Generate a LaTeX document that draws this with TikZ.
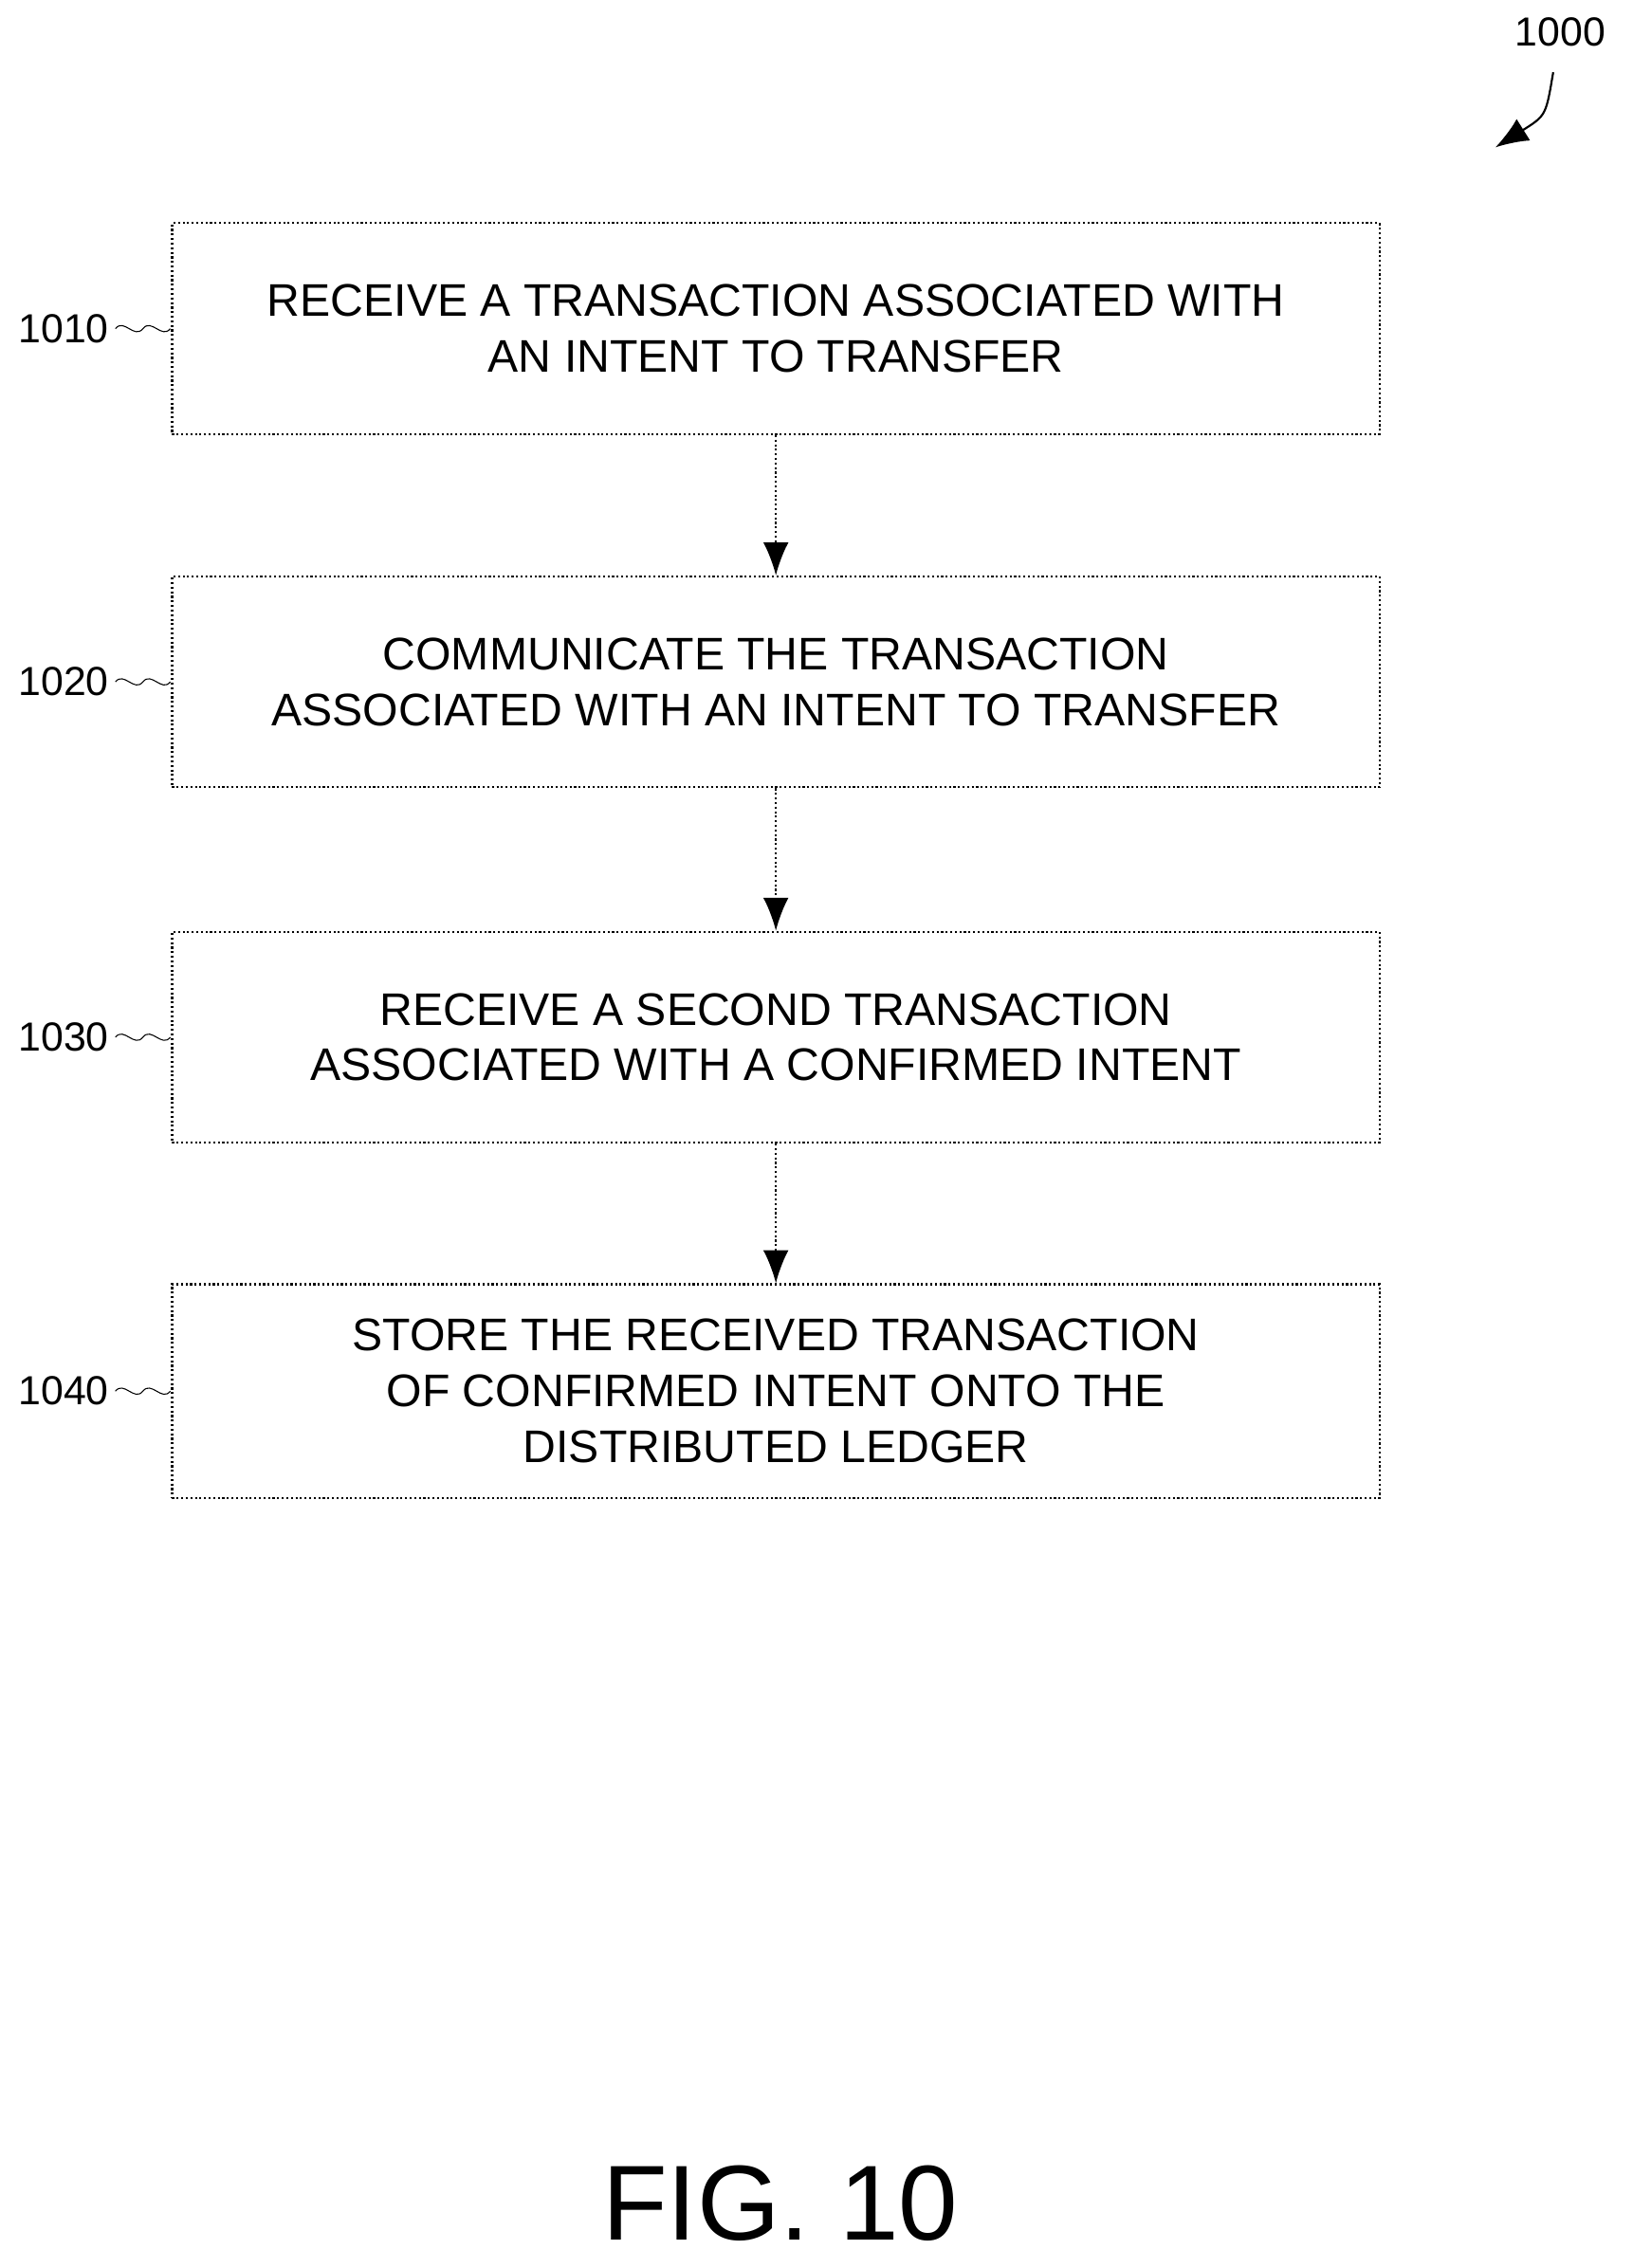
\documentclass[tikz,border=0pt]{standalone}
\usepackage{fontspec}
\setmainfont{Liberation Sans}
\usetikzlibrary{arrows.meta,calc}
\tikzset{%
  >={Latex[length=13pt,width=10pt]},
  step box/.style={draw,densely dotted,thick,minimum width=16.72cm,minimum height=2.92cm,
    align=center,font=\fontsize{18}{22}\selectfont,inner sep=0pt},
  ref label/.style={font=\fontsize{16}{18}\selectfont,anchor=east,inner sep=1pt},
  flow/.style={->,densely dotted,thick}
}
\newcommand\squiggle[1]{%
  \draw[thin] ($(#1.east)+(0.05cm,0)$) .. controls +(0.12cm,0.15cm) and +(-0.12cm,-0.15cm) .. ++(0.38cm,0)
    .. controls +(0.12cm,0.15cm) and +(-0.12cm,-0.15cm) .. ++(0.38cm,0);
}
\begin{document}
\begin{tikzpicture}[x=0.02cm,y=-0.02cm]
\useasboundingbox (0,0) rectangle (1130,1570);

\node[step box] (s1010) at (537,227.5) {RECEIVE A TRANSACTION ASSOCIATED WITH\\AN INTENT TO TRANSFER};
\node[step box] (s1020) at (537,472) {COMMUNICATE THE TRANSACTION\\ASSOCIATED WITH AN INTENT TO TRANSFER};
\node[step box] (s1030) at (537,718) {RECEIVE A SECOND TRANSACTION\\ASSOCIATED WITH A CONFIRMED INTENT};
\node[step box,minimum height=2.96cm] (s1040) at (537,963) {STORE THE RECEIVED TRANSACTION\\OF CONFIRMED INTENT ONTO THE\\DISTRIBUTED LEDGER};

\foreach \n in {1010,1020,1030,1040}{
  \node[ref label] (l\n) at ([xshift=-0.82cm]s\n.west) {\n};
  \squiggle{l\n}
}

\draw[flow] (s1010) -- (s1020);
\draw[flow] (s1020) -- (s1030);
\draw[flow] (s1030) -- (s1040);

% figure number
\node[font=\fontsize{16}{18}\selectfont] (fig) at (1080,22) {1000};
\coordinate (figtip) at (1035,102);
\draw[->,thick] (1075,50) .. controls (1070,80) .. (figtip);

\node[font=\fontsize{42}{50}\selectfont] (caption) at (540,1525) {FIG. 10};
\end{tikzpicture}
\end{document}
